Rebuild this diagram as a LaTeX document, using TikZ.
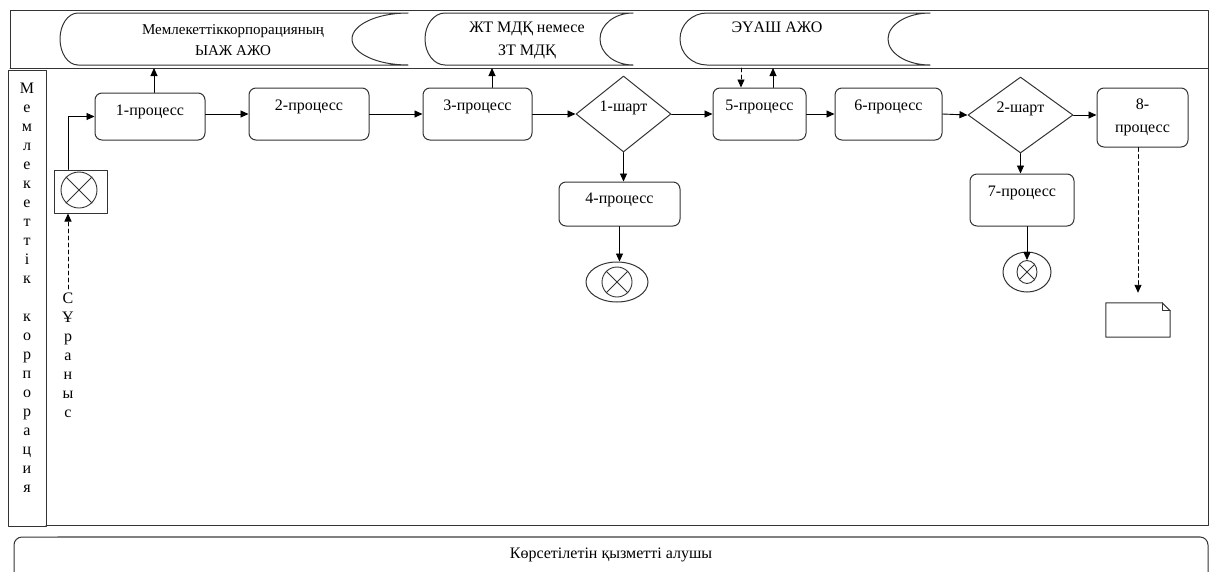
\documentclass[tikz,border=0pt]{standalone}
\usepackage{fontspec}
\setmainfont{Liberation Serif}
\usetikzlibrary{arrows.meta}
\usetikzlibrary{shapes.geometric}

\begin{document}
\begin{tikzpicture}[line cap=round,line join=round,>={Triangle[length=8pt,width=7pt]},x=1pt,y=-1pt,
  every node/.style={font=\fontsize{16}{19}\selectfont},
  proc/.style={draw=black!80,rounded corners=7pt,line width=1pt,inner sep=0pt,text height=10pt,text depth=#1},
  proc/.default=17pt,
  cond/.style={draw=black!80,diamond,line width=1pt,inner sep=0pt,text height=10pt,text depth=15pt},
  endev/.style={draw=black!80,ellipse,line width=1pt,inner sep=0pt},
  pool/.style={draw=black!80,line width=1pt},
  flow/.style={->,line width=0.9pt},
  msg/.style={->,line width=0.9pt,dash pattern=on 4pt off 3pt}]
\useasboundingbox (0,0) rectangle (1213,571);
\clip (0,0) rectangle (1213,571);
% lanes
\draw[line width=1pt,black!80] (10,68) -- (10,10) -- (1208,10) -- (1208,525) -- (46,525);
\draw[line width=1pt,black!80] (10,68) -- (1208,68);
\draw[line width=1pt,black!80] (8,70) rectangle (46,526);
\node[align=center,anchor=north] (corp) at (27,79) {М\\е\\м\\л\\е\\к\\е\\т\\т\\і\\к\\[19pt]к\\о\\р\\п\\о\\р\\а\\ц\\и\\я};
\draw[line width=1pt,black!80,rounded corners=8pt] (14,537) -- (1208,537) -- (1208,600) -- (14,600) -- cycle;
\draw[line width=1.6pt,gray] (58,537) -- (1200,537);
\node (client) at (611,555) {Көрсетілетін қызметті алушы};
% systems
\draw[pool] (78,13) -- (408,13) arc[start angle=270,end angle=90,x radius=56,y radius=26] -- (78,65) arc[start angle=90,end angle=270,x radius=18,y radius=26] -- cycle;
\draw[pool] (445,13) -- (633,13) arc[start angle=270,end angle=90,x radius=33,y radius=26] -- (445,65) arc[start angle=90,end angle=270,x radius=20,y radius=26] -- cycle;
\draw[pool] (707,13) -- (930,13) arc[start angle=270,end angle=90,x radius=42,y radius=26] -- (707,65) arc[start angle=90,end angle=270,x radius=27,y radius=26] -- cycle;
\node[align=center,font=\fontsize{15}{19}\selectfont] (pool1) at (233,40) {Мемлекеттіккорпорацияның\\[2pt]ЫАЖ АЖО};
\node[align=center] (pool2) at (527,40.5) {ЖТ МДҚ немесе\\[4pt]ЗТ МДҚ};
\node (pool3) at (777,27) {ЭҮАШ АЖО};
\coordinate (up1) at (154,68);
\coordinate (up3) at (492,68);
\coordinate (dn5) at (741,68);
\coordinate (up5) at (773,68);
% start
\node[draw=black!80,line width=1pt,minimum width=53,minimum height=43] (start) at (81,191.5) {};
\node[draw=black!80,circle,line width=0.9pt,minimum size=36,inner sep=0pt] (startx) at (79,190) {};
\draw[line width=0.9pt,black!80] (startx.45) -- (startx.225) (startx.135) -- (startx.315);
\node[align=center,anchor=north] (req) at (68,289) {С\\Ұ\\р\\а\\н\\ы\\с};
% processes
\node[proc=12pt,minimum width=110,minimum height=47] (p1) at (150,116.5) {1-процесс};
\node[proc,minimum width=120,minimum height=52] (p2) at (309,114) {2-процесс};
\node[proc,minimum width=109,minimum height=52] (p3) at (477.5,114) {3-процесс};
\node[cond,minimum width=95,minimum height=76] (c1) at (623.5,114) {1-шарт};
\node[proc,minimum width=93,minimum height=52] (p5) at (759.5,114) {5-процесс};
\node[proc,minimum width=107,minimum height=52] (p6) at (888.5,114) {6-процесс};
\node[cond,minimum width=105,minimum height=76] (c2) at (1020.5,115) {2-шарт};
\node[proc,text height=,text depth=,align=center,minimum width=91,minimum height=59] (p8) at (1142.5,117.5) {8-\\[4pt]процесс};
\node[proc=11pt,minimum width=121,minimum height=44] (p4) at (619.5,204) {4-процесс};
\node[proc,minimum width=104,minimum height=52] (p7) at (1022,200) {7-процесс};
% ends
\node[endev,minimum width=62,minimum height=40] (e4) at (617,282) {};
\node[draw=black!80,circle,line width=0.9pt,minimum size=30,inner sep=0pt] (e4x) at (e4) {};
\draw[line width=0.9pt,black!80] (e4x.45) -- (e4x.225) (e4x.135) -- (e4x.315);
\node[endev,minimum width=48,minimum height=40] (e7) at (1027,272) {};
\node[draw=black!80,ellipse,line width=0.9pt,minimum width=20,minimum height=23,inner sep=0pt] (e7x) at (e7) {};
\draw[line width=0.9pt,black!80] (e7x.45) -- (e7x.225) (e7x.135) -- (e7x.315);
\node[minimum width=64,minimum height=34,inner sep=0pt] (doc) at (1138,320) {};
\draw[line width=1pt,black!80] (doc.north west) -- ([xshift=-8]doc.north east) -- ([yshift=-8]doc.north east) -- (doc.south east) -- (doc.south west) -- cycle;
\draw[line width=0.8pt,black!80] ([xshift=-8]doc.north east) -- ([xshift=-8,yshift=-8]doc.north east) -- ([yshift=-8]doc.north east);
% arrows
\draw[msg] (req.north) -- (req.north |- start.south);
\draw[flow] (req.north |- start.north) |- (p1.west);
\draw[flow] (up1 |- p1.north) -- (up1);
\draw[flow] (p1.east |- p2.west) -- (p2.west);
\draw[flow] (p2.east) -- (p3.west);
\draw[flow] (up3 |- p3.north) -- (up3);
\draw[flow] (p3.east) -- (c1.west);
\draw[flow] (c1.east) -- (p5.west);
\draw[flow] (c1.south) -- (c1.south |- p4.north);
\draw[flow] (p4.south) -- (p4.south |- e4.north);
\draw[msg] (dn5) -- (dn5 |- p5.north);
\draw[flow] (up5 |- p5.north) -- (up5);
\draw[flow] (p5.east) -- (p6.west);
\draw[flow] (p6.east) -- (c2.west);
\draw[flow] (c2.east) -- (c2.east -| p8.west);
\draw[flow] (c2.south) -- (c2.south |- p7.north);
\draw[flow] (e7x.north |- p7.south) -- (e7x.north);
\draw[msg] (doc.north |- p8.south) -- ([yshift=10]doc.north);
\end{tikzpicture}
\end{document}
